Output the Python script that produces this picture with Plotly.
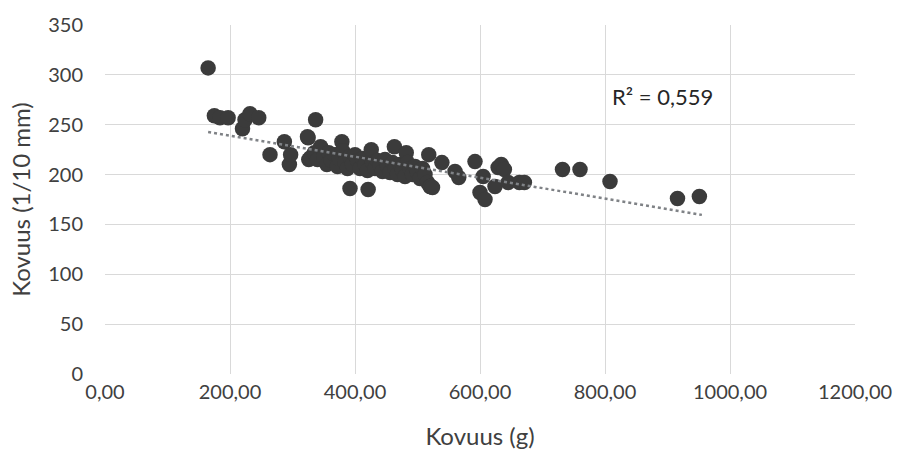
import plotly.graph_objects as go

# Data
hardness_g = [165, 175, 184, 197, 220, 224, 232, 246, 264, 287, 295, 297, 325, 337, 326, 329, 324,
              335, 340, 345, 350, 355, 358, 362, 368, 372, 375, 379, 380, 384, 388, 392, 396, 400,
              404, 408, 412, 416, 420, 424, 426, 428, 432, 436, 440, 444, 448, 452, 456, 460, 463,
              464, 468, 472, 476, 480, 482, 484, 488, 492, 496, 500, 504, 508, 512, 516, 518, 520,
              521, 524, 539, 560, 566, 592, 600, 605, 608, 624, 629, 634, 639, 645, 663, 671,
              732, 760, 808, 916, 951, 392, 421]
hardness_mm = [307, 259, 257, 257, 246, 255, 261, 257, 220, 233, 210, 220, 237, 255, 215, 217, 238,
               222, 215, 228, 218, 210, 222, 214, 220, 208, 216, 233, 224, 212, 206, 218, 210, 220,
               214, 206, 216, 210, 204, 218, 225, 212, 206, 214, 209, 203, 215, 208, 202, 212, 228,
               206, 200, 210, 204, 198, 222, 212, 206, 200, 208, 202, 196, 206, 200, 192, 220, 188,
               188, 187, 212, 203, 197, 213, 182, 198, 175, 188, 207, 210, 205, 192, 192, 192,
               205, 205, 193, 176, 178, 186, 185]

trend_x = [165, 955]
trend_y = [242.6, 159.6]
r2_text = "R² = 0,559"

x_ticks = [0, 200, 400, 600, 800, 1000, 1200]
x_tick_labels = ["0,00", "200,00", "400,00", "600,00", "800,00", "1000,00", "1200,00"]
y_ticks = [0, 50, 100, 150, 200, 250, 300, 350]

FONT = "Lato, Open Sans, sans-serif"

fig = go.Figure()
fig.add_trace(go.Scatter(
    x=hardness_g, y=hardness_mm, mode="markers",
    marker=dict(size=15.5, color="#3b3b3b", line=dict(width=0)),
    showlegend=False, hoverinfo="x+y"))
fig.add_trace(go.Scatter(
    x=trend_x, y=trend_y, mode="lines",
    line=dict(color="#7f8286", width=2.5, dash="dot"),
    showlegend=False, hoverinfo="skip"))

fig.add_annotation(x=808, y=278, text=r2_text, showarrow=False,
                   xanchor="left", yanchor="middle",
                   font=dict(family=FONT, size=22, color="#262626"))

fig.update_layout(
    width=904, height=459,
    margin=dict(l=105, r=39, t=23, b=85),
    paper_bgcolor="white", plot_bgcolor="white",
    font=dict(family=FONT, size=20, color="#404040"),
    xaxis=dict(range=[0, 1200], tickvals=x_ticks, ticktext=x_tick_labels,
               showgrid=True, gridcolor="#d9d9d9", gridwidth=1, zeroline=False,
               showline=False, ticks="", ticklabelstandoff=4,
               tickfont=dict(family=FONT, size=20, color="#404040"),
               title=dict(text="Kovuus (g)", font=dict(family=FONT, size=24, color="#404040"), standoff=26)),
    yaxis=dict(range=[0, 350], tickvals=y_ticks,
               showgrid=True, gridcolor="#d9d9d9", gridwidth=1, zeroline=False,
               showline=False, ticks="", ticklabelstandoff=21,
               tickfont=dict(family=FONT, size=20, color="#404040"),
               title=dict(text="Kovuus (1/10 mm)", font=dict(family=FONT, size=24, color="#404040"), standoff=10)),
)

fig.write_html("out.html")
